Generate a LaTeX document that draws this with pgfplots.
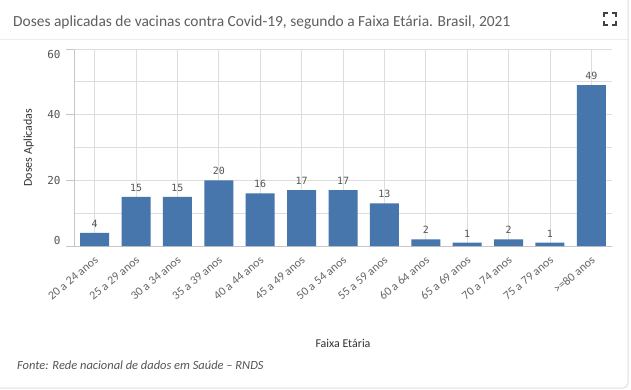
\documentclass[border=0pt]{standalone}
\usepackage{pgfplots}
\pgfplotsset{compat=1.18}
\usepackage{fontspec}
\setmainfont{Carlito}
\newfontfamily\monof{DejaVu Sans Mono}
\definecolor{barblue}{HTML}{4676AC}
\definecolor{titlegray}{HTML}{5F5F5F}
\definecolor{txtgray}{HTML}{555555}
\definecolor{gridgray}{HTML}{DDDDDD}
\begin{document}
\begin{tikzpicture}
\path[use as bounding box] (0bp,0bp) rectangle (631bp,-390bp);
\fill[white] (0bp,0bp) rectangle (631bp,-390bp);
\draw[gray!25, line width=1bp, rounded corners=5bp] (-5bp,5bp) -- (628bp,5bp) -- (628bp,-388bp) -- (-5bp,-388bp);
\draw[gray!15, line width=0.8bp] (0bp,-39bp) -- (628bp,-39bp);
\node[anchor=base west, inner sep=0, text=titlegray, font=\fontsize{15.5}{18}\selectfont] at (13bp,-26bp) {Doses aplicadas de vacinas contra Covid-19, segundo a Faixa Etária. Brasil, 2021};
% fullscreen icon
\begin{scope}[line width=1.5bp, draw=black!75]
\draw (604bp,-17bp) -- (604bp,-13bp) -- (608bp,-13bp);
\draw (612bp,-13bp) -- (616bp,-13bp) -- (616bp,-17bp);
\draw (604bp,-21bp) -- (604bp,-25bp) -- (608bp,-25bp);
\draw (612bp,-25bp) -- (616bp,-25bp) -- (616bp,-21bp);
\end{scope}
\begin{axis}[
  at={(74bp,-246bp)}, anchor=south west,
  scale only axis, width=538bp, height=197bp,
  xmin=-0.5, xmax=12.5, ymin=0, ymax=60,
  axis x line*=bottom, axis y line*=left,
  axis line style={draw=gray!45, line width=0.8bp, -},
  ytick={0,20,40}, minor ytick={10,30,50},
  yticklabels={\raisebox{12bp}{0},20,40},
  extra y ticks={60},
  extra y tick style={yticklabel style={yshift=-6bp}},
  grid=both,
  major grid style={draw=gridgray, line width=0.7bp},
  minor grid style={draw=gridgray, line width=0.7bp},
  major tick length=8bp, minor tick length=0pt,
  tick style={draw=gray!45, line width=0.7bp},
  ytick align=outside,
  xtick=data, xtick style={draw=none},
  /pgf/number format/assume math mode=true,
  xticklabels={20 a 24 anos,25 a 29 anos,30 a 34 anos,35 a 39 anos,40 a 44 anos,45 a 49 anos,50 a 54 anos,55 a 59 anos,60 a 64 anos,65 a 69 anos,70 a 74 anos,75 a 79 anos,>=80 anos},
  x tick label style={rotate=40, anchor=north east, inner sep=0pt, xshift=-6.5bp, yshift=-6.5bp, text=txtgray!90, font=\fontsize{12}{14}\selectfont},
  y tick label style={text=txtgray, font=\monof\fontsize{11}{13}\selectfont, xshift=-2bp},
  ylabel={Doses Aplicadas},
  ylabel style={at={(axis description cs:-0.084,0.5)}, anchor=center, font=\fontsize{12}{14}\selectfont, text=black!80},
  xlabel={Faixa Etária},
  xlabel style={at={(axis description cs:0.5,0)}, anchor=center, yshift=-97bp, font=\fontsize{12}{14}\selectfont, text=black!80},
  nodes near coords,
  every node near coord/.append style={font=\monof\fontsize{10}{12}\selectfont, text=txtgray, yshift=2bp},
]
\addplot[ybar, bar width=29bp, fill=barblue, draw=none] coordinates {
(0,4) (1,15) (2,15) (3,20) (4,16) (5,17) (6,17) (7,13) (8,2) (9,1) (10,2) (11,1) (12,49)
};
\end{axis}
\node[anchor=base west, inner sep=0, text=txtgray, font=\itshape\fontsize{12.5}{14}\selectfont] at (17bp,-369bp) {Fonte: Rede nacional de dados em Saúde – RNDS};
\end{tikzpicture}
\end{document}
